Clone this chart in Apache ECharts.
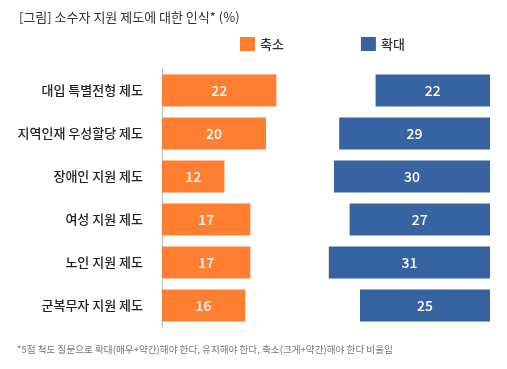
<!DOCTYPE html>
<html><head><meta charset="utf-8">
<script src="https://cdn.jsdelivr.net/npm/echarts@6/dist/echarts.min.js"></script>
<style>html,body{margin:0;padding:0;background:#fff}#c{width:507px;height:369px}</style>
</head><body><div id="c"></div>
<script>
const categories = ['대입 특별전형 제도','지역인재 우성할당 제도','장애인 지원 제도','여성 지원 제도','노인 지원 제도','군복무자 지원 제도'];
const shrink = [22, 20, 12, 17, 17, 16];
const expand = [22, 29, 30, 27, 31, 25];
const seriesNames = ['축소','확대'];
const titleText = '[그림] 소수자 지원 제도에 대한 인식* (%)';
const footnote = '*5점 척도 질문으로 확대(매우+약간)해야 한다, 유지해야 한다, 축소(크게+약간)해야 한다 비율임';

const FONT = '"Noto Sans CJK KR","Noto Sans",sans-serif';
const chart = echarts.init(document.getElementById('c'), null, {renderer:'canvas'});
const labelStyle = {show:true, position:'inside', color:'#fff', fontSize:14, fontWeight:500, fontFamily:FONT};
chart.setOption({
  animation:false,
  textStyle:{fontFamily:FONT},
  title:[
    {text:titleText, left:14, top:6, textStyle:{fontSize:13, fontWeight:'normal', color:'#333', fontFamily:FONT}},
    {text:footnote, left:12, top:340, textStyle:{fontSize:9.6, fontWeight:'normal', color:'#777', fontFamily:FONT}}
  ],
  legend:{
    data:seriesNames, top:37, left:240, padding:0, itemWidth:15, itemHeight:14, itemGap:77, itemStyle:{borderWidth:0},
    icon:'rect', textStyle:{fontSize:13, fontWeight:500, color:'#333', fontFamily:FONT}
  },
  grid:[
    {left:162, top:69, height:258, width:156, containLabel:false},
    {left:308, top:69, height:258, width:182, containLabel:false}
  ],
  xAxis:[
    {gridIndex:0, type:'value', min:0, max:30, show:false},
    {gridIndex:1, type:'value', min:0, max:35, inverse:true, show:false}
  ],
  yAxis:[
    {gridIndex:0, type:'category', data:categories, inverse:true,
     axisLine:{show:true, lineStyle:{color:'#bbb', width:1}}, axisTick:{show:false},
     axisLabel:{margin:19, fontSize:13, fontWeight:500, color:'#222', fontFamily:FONT}},
    {gridIndex:1, type:'category', data:categories, inverse:true, show:false}
  ],
  series:[
    {name:seriesNames[0], type:'bar', xAxisIndex:0, yAxisIndex:0, data:shrink, barWidth:32,
     itemStyle:{color:'#FE7F32'}, label:labelStyle},
    {name:seriesNames[1], type:'bar', xAxisIndex:1, yAxisIndex:1, data:expand, barWidth:32,
     itemStyle:{color:'#3763A3'}, label:labelStyle}
  ]
});
</script></body></html>
